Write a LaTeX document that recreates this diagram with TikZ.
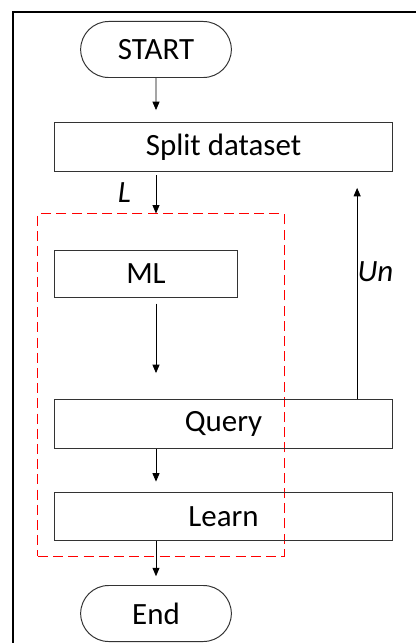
\documentclass[tikz,border=0pt]{standalone}
\usepackage{fontspec}
\setmainfont{Carlito}
\usetikzlibrary{shapes, arrows.meta, positioning}

\begin{document}
\begin{tikzpicture}[x=0.025cm, y=-0.025cm, font=\fontsize{22}{26}\selectfont,
            box/.style={draw=black!80, rectangle, line width=0.7pt, minimum width=8.425cm, minimum height=1.22cm, align=center},
            term/.style={draw=black!80, rounded rectangle, line width=0.7pt, minimum width=4cm, minimum height=1.4cm},
            grp/.style={draw=red, dashed, dash pattern=on 0.25cm off 0.13cm, line width=0.7pt, minimum width=6.15cm, minimum height=8.55cm},
            arr/.style={-{Triangle[width=5pt, length=6pt]}, line width=0.6pt}]

            \useasboundingbox (0,0) rectangle (415,643);
            \draw[line width=1.4pt] (13,650) -- (13,12) -- (420,12);

            \node[term] (start) at (156,49.5) {START};
            \node[box] (split) at (223.5,147) {Split dataset};
            \node[grp] (grp) at (161,385) {};
            \node[box, minimum width=4.55cm, minimum height=1.175cm] (ml) at (146,273.5) {ML};
            \node[box] (query) at (223.5,424) {Query};
            \node[box] (learn) at (223.5,516.5) {Learn};
            \node[term] (end) at (156,613.5) {End};

            \draw[arr, shorten >=0.3cm] (start) -- (split.north -| start);
            \draw[arr, shorten <=0.08cm] (split.south -| start) -- (grp.north -| start)
                node[midway, left=0.5cm, font=\fontsize{22}{26}\selectfont\itshape] {L};
            \draw[arr, shorten <=0.15cm, shorten >=0.65cm] (ml.south -| start) -- (query.north -| start);
            \draw[arr, shorten >=0.25cm] (query.south -| start) -- (learn.north -| start);
            \draw[arr, shorten >=0.22cm] (learn.south -| start) -- (end.north -| start);
            \draw[arr, shorten >=0.4cm] ([xshift=3.34cm]query.north) -- ([xshift=3.34cm]split.south)
                node[pos=0.56, right, inner sep=0pt, font=\fontsize{22}{26}\selectfont\itshape] {Un};
\end{tikzpicture}
\end{document}
